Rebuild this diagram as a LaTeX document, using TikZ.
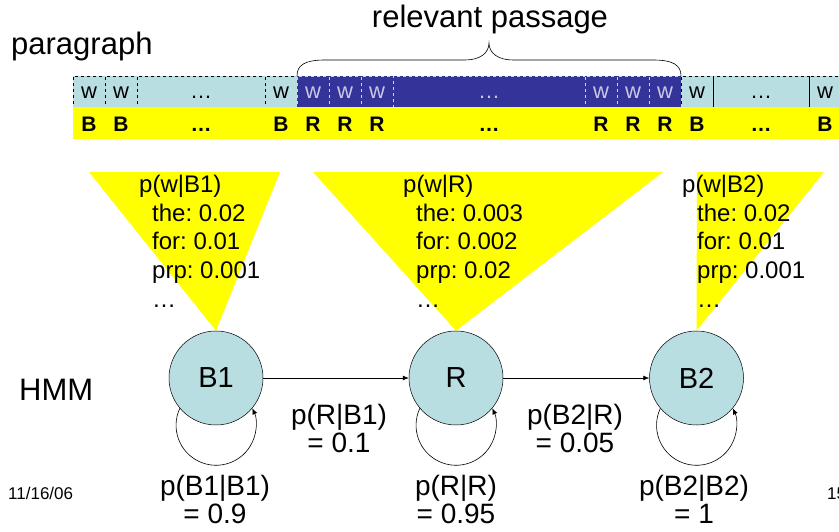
\documentclass[tikz,border=0pt]{standalone}
\usepackage{fontspec}
\setmainfont{Liberation Sans}
\usetikzlibrary{arrows.meta}
\frenchspacing

\definecolor{cellcyan}{RGB}{184,222,226}
\definecolor{passblue}{RGB}{51,51,153}
\definecolor{passtext}{RGB}{200,200,228}
\definecolor{labelyellow}{RGB}{255,255,0}

\newcommand{\fs}[2]{\fontsize{#1}{#2}\selectfont}

\tikzset{
  wordcell/.style={draw=black, dashed, line width=0.5pt, fill=cellcyan,
    minimum height=31, inner sep=0, outer sep=0,
    text height=13.5pt, text depth=0pt, font=\fs{22}{24}},
  passcell/.style={wordcell, draw=cellcyan, fill=passblue, text=passtext},
  tag/.style={anchor=base, inner sep=0, font=\fs{21}{24}\bfseries},
  emission/.style={anchor=north west, align=left, inner sep=0, font=\fs{24}{28.7}},
  state/.style={circle, draw=black, line width=0.5pt, fill=cellcyan,
    minimum size=94, inner sep=0, font=\fs{29}{32}},
  trans/.style={-{Latex[length=6pt,width=5pt]}, line width=0.6pt},
  problabel/.style={anchor=north, align=center, inner sep=0, font=\fs{28}{28}},
  bigtext/.style={anchor=base west, inner sep=0, font=\fs{31}{36}},
  footer/.style={anchor=base west, inner sep=0, font=\fs{17}{20}}
}

\begin{document}
\begin{tikzpicture}[x=1pt,y=1pt]
\useasboundingbox (0,0) rectangle (839,531);

% ---- headings ----
\node[bigtext] (paragraph) at (11,476) {paragraph};
\node[bigtext, anchor=base] (passage) at (490,503) {relevant passage};

% ---- word row ----
\node[wordcell, minimum width=32]  (c1)  at (89,439.5)  {w};
\node[wordcell, minimum width=32]  (c2)  at (121,439.5) {w};
\node[wordcell, minimum width=128] (c3)  at (201,439.5) {\dots};
\node[wordcell, minimum width=32]  (c4)  at (281,439.5) {w};
\node[passcell, minimum width=32]  (c5)  at (313,439.5) {w};
\node[passcell, minimum width=32]  (c6)  at (345,439.5) {w};
\node[passcell, minimum width=32]  (c7)  at (377,439.5) {w};
\node[passcell, minimum width=192] (c8)  at (489,439.5) {\dots};
\node[passcell, minimum width=32]  (c9)  at (601,439.5) {w};
\node[passcell, minimum width=32]  (c10) at (633,439.5) {w};
\node[passcell, minimum width=32]  (c11) at (665,439.5) {w};
\node[wordcell, minimum width=32]  (c12) at (697,439.5) {w};
\node[wordcell, minimum width=96]  (c13) at (761,439.5) {\dots};
\node[wordcell, minimum width=32]  (c14) at (825,439.5) {w};
% solid dividers on the trailing cells
\draw[line width=0.5pt] (c13.north west) -- (c13.south west);
\draw[line width=0.5pt] (c14.north west) -- (c14.south west);

% ---- label row ----
\fill[labelyellow] (73,392) rectangle (845,424);
\foreach \x/\t [count=\i] in {89/B,121/B,201/\dots,281/B,313/R,345/R,377/R,489/\dots,601/R,633/R,665/R,697/B,761/\dots,825/B}
  \node[tag] (t\i) at (\x,399.5) {\t};

% ---- brace over the relevant passage ----
\draw[line width=0.6pt] (c5.north west)
  .. controls (297,466) and (305,471) .. (325,471) -- (465,471)
  .. controls (480,471) and (489,478) .. (489,488)
  .. controls (489,478) and (498,471) .. (513,471) -- (653,471)
  .. controls (673,471) and (681,466) .. (c11.north east);

% ---- states ----
\node[state] (B1) at (216,153) {B1};
\node[state] (R)  at (456,153) {R};
\node[state] (B2) at (696.5,153) {B2};

% ---- emission triangles ----
\fill[labelyellow] (89,359) -- (280,359) -- (B1.north) -- cycle;
\fill[labelyellow] (313,359) -- (663,359) -- (R.north) -- cycle;
\fill[labelyellow] (697,359) -- (824,359) -- (B2.north) -- cycle;

\node[emission] (e1) at (139,356) {p(w|B1)\\\hspace*{13pt}the: 0.02\\\hspace*{13pt}for: 0.01\\\hspace*{13pt}prp: 0.001\\\hspace*{13pt}\dots};
\node[emission] (e2) at (403,356) {p(w|R)\\\hspace*{13pt}the: 0.003\\\hspace*{13pt}for: 0.002\\\hspace*{13pt}prp: 0.02\\\hspace*{13pt}\dots};
\node[emission] (e3) at (682,356) {p(w|B2)\\\hspace*{15pt}the: 0.02\\\hspace*{15pt}for: 0.01\\\hspace*{15pt}prp: 0.001\\\hspace*{15pt}\dots};

% ---- transitions ----
\draw[trans] (B1.east) -- (R.west);
\draw[trans] (R.east) -- (B2.west);
\draw[trans] (B1.220) arc[start angle=155, end angle=385, radius=40];
\draw[trans] (R.220)  arc[start angle=155, end angle=385, radius=40];
\draw[trans] (B2.220) arc[start angle=155, end angle=385, radius=40];

\node[problabel] (lRB1)  at (339,126.5) {p(R|B1)\\= 0.1};
\node[problabel] (lB2R)  at (575,126.5) {p(B2|R)\\= 0.05};
\node[problabel] (lB1B1) at (215,56)    {p(B1|B1)\\= 0.9};
\node[problabel] (lRR)   at (456,56)    {p(R|R)\\= 0.95};
\node[problabel] (lB2B2) at (694,56)    {p(B2|B2)\\= 1};

% ---- side labels ----
\node[bigtext] (hmm) at (19,131) {HMM};
\node[footer] (date) at (8,32) {11/16/06};
\node[footer] (page) at (827,32) {15};
\end{tikzpicture}
\end{document}
